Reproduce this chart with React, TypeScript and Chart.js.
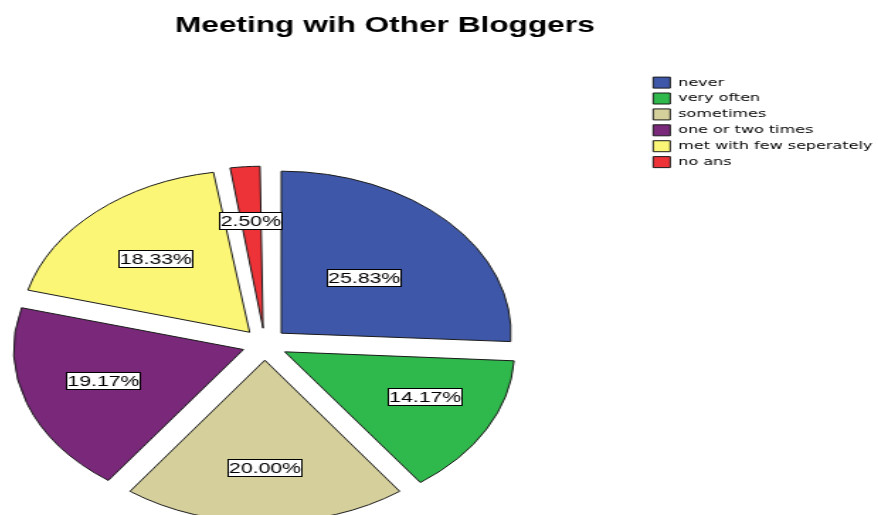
import React, { useEffect, useRef } from 'react';
import { Chart, registerables } from 'chart.js';

Chart.register(...registerables);

// ---- data ----
const categories = [
  'never',
  'very often',
  'sometimes',
  'one or two times',
  'met with few seperately',
  'no ans',
];
const percentages = [25.83, 14.17, 20.0, 19.17, 18.33, 2.5];
const sliceColors = ['#3E57A8', '#2FB84B', '#D5CF9B', '#7A287A', '#FBF675', '#EE3338'];
const chartTitle = 'Meeting wih Other Bloggers';

// ---- geometry / style ----
const VIEW_W = 878;
const VIEW_H = 515;
const SCALE_X = 1.4175;
const CANVAS_W = 708;
const CANVAS_H = 616;
const SHIFT_X = 82.4;
const EXPLODE = 16;
const PIE_RADIUS = 162;
const LABEL_RADIUS = [0.494, 0.672, 0.665, 0.641, 0.607, 0.664];
const LABEL_ANGLE_ADJ = [0, -3.7, 0, 2.1, 0, 0];

const explodeFix = {
  id: 'explodeFix',
  beforeDatasetsDraw(chart: any) {
    const meta = chart.getDatasetMeta(0);
    const R = (meta.controller as any).outerRadius;
    meta.data.forEach((el: any) => {
      const circ = el.endAngle - el.startAngle;
      const fix = 1 - Math.sin(Math.min(Math.PI, circ));
      el.outerRadius = R - EXPLODE * fix;
    });
  },
};

const sliceLabels = {
  id: 'sliceLabels',
  afterDatasetsDraw(chart: any) {
    const ctx = chart.ctx as CanvasRenderingContext2D;
    const meta = chart.getDatasetMeta(0);
    const R = (meta.controller as any).outerRadius;
    ctx.save();
    ctx.font = '15px "Liberation Sans", Arial, sans-serif';
    ctx.textAlign = 'center';
    ctx.textBaseline = 'middle';
    meta.data.forEach((el: any, i: number) => {
      const mid = (el.startAngle + el.endAngle) / 2;
      const ang = mid + (LABEL_ANGLE_ADJ[i] * Math.PI) / 180;
      const ox = Math.cos(mid) * EXPLODE;
      const oy = Math.sin(mid) * EXPLODE;
      const r = R * LABEL_RADIUS[i];
      const x = el.x + ox + Math.cos(ang) * r;
      const y = el.y + oy + Math.sin(ang) * r;
      const text = percentages[i].toFixed(2) + '%';
      const w = Math.round(ctx.measureText(text).width + 2);
      const h = 18;
      const left = Math.round(x - w / 2);
      const top = Math.round(y - h / 2);
      ctx.fillStyle = '#ffffff';
      ctx.fillRect(left, top, w, h);
      ctx.strokeStyle = '#000000';
      ctx.lineWidth = 1;
      ctx.strokeRect(left + 0.5, top + 0.5, w - 1, h - 1);
      ctx.fillStyle = '#000000';
      ctx.fillText(text, left + w / 2, top + h / 2 + 1);
    });
    ctx.restore();
  },
};

export default function App() {
  const ref = useRef<HTMLCanvasElement>(null);

  useEffect(() => {
    if (!ref.current) return;
    const chart = new Chart(ref.current, {
      type: 'pie',
      data: {
        labels: categories,
        datasets: [
          {
            data: percentages,
            backgroundColor: sliceColors,
            borderColor: '#1a1a1a',
            borderWidth: 1,
            offset: EXPLODE * 4,
            radius: PIE_RADIUS,
          } as any,
        ],
      },
      options: {
        responsive: false,
        animation: false,
        events: [],
        layout: { padding: { left: 0, right: 0, top: 0, bottom: 0 } },
        plugins: {
          title: {
            display: true,
            text: chartTitle,
            color: '#000000',
            font: { family: '"Liberation Sans", Arial, sans-serif', size: 22.3, weight: 'bold' },
            padding: { top: 12.3, bottom: 33.3 },
          },
          legend: {
            display: true,
            position: 'right',
            align: 'start',
            fullSize: false,
            labels: {
              boxWidth: 12,
              boxHeight: 11,
              padding: 4.6,
              color: '#000000',
              font: { family: '"DejaVu Sans", Verdana, sans-serif', size: 11.3 },
            },
          },
          tooltip: { enabled: false },
        },
      } as any,
      plugins: [explodeFix, sliceLabels],
    });
    return () => chart.destroy();
  }, []);

  return (
    <div
      style={{
        position: 'fixed',
        left: 0,
        top: 0,
        width: VIEW_W,
        height: VIEW_H,
        overflow: 'hidden',
        background: '#ffffff',
      }}
    >
      <div
        style={{
          position: 'absolute',
          left: -SHIFT_X * SCALE_X,
          top: 0,
          width: CANVAS_W,
          height: CANVAS_H,
          transform: `scaleX(${SCALE_X})`,
          transformOrigin: '0 0',
        }}
      >
        <canvas
          ref={ref}
          width={CANVAS_W}
          height={CANVAS_H}
          style={{ display: 'block', width: CANVAS_W, height: CANVAS_H }}
        />
      </div>
    </div>
  );
}
